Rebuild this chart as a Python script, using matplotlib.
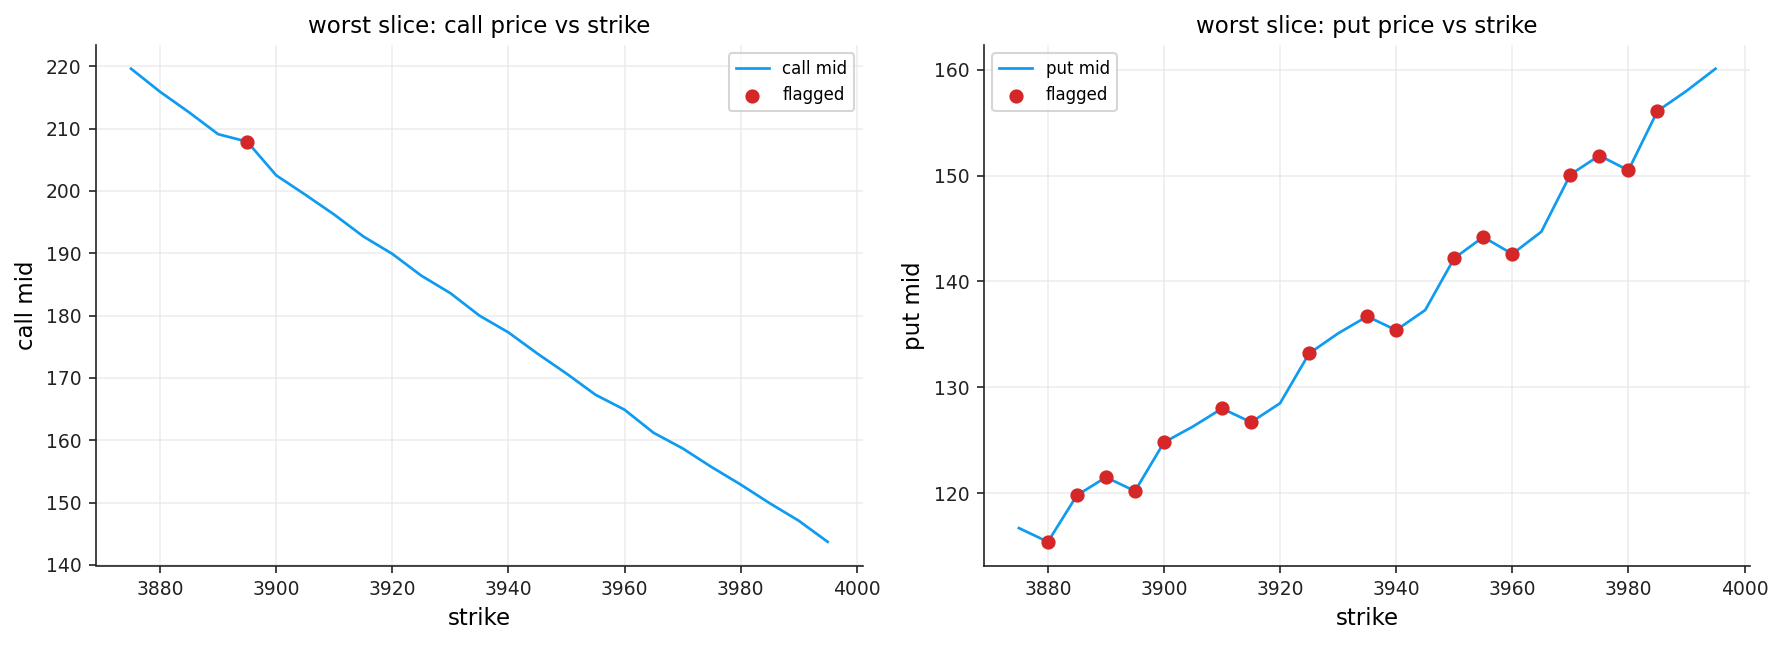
import numpy as np
import matplotlib
matplotlib.use("Agg")
import matplotlib.pyplot as plt

strikes = [3875, 3880, 3885, 3890, 3895, 3900, 3905, 3910, 3915, 3920, 3925, 3930, 3935,
           3940, 3945, 3950, 3955, 3960, 3965, 3970, 3975, 3980, 3985, 3990, 3995]
call_mid = [219.6, 215.9, 212.6, 209.1, 207.9, 202.5, 199.4, 196.2, 192.7, 189.9, 186.4,
            183.6, 180.0, 177.3, 173.9, 170.7, 167.3, 164.9, 161.2, 158.7, 155.7, 152.9,
            149.9, 147.1, 143.7]
put_mid = [116.7, 115.4, 119.8, 121.5, 120.2, 124.8, 126.3, 128.0, 126.7, 128.5, 133.2,
           135.1, 136.7, 135.4, 137.3, 142.2, 144.2, 142.6, 144.7, 150.1, 151.9, 150.5,
           156.1, 158.0, 160.1]
call_flagged = [3895]
put_flagged = [3880, 3885, 3890, 3895, 3900, 3910, 3915, 3925, 3935, 3940, 3950, 3955,
               3960, 3970, 3975, 3980, 3985]

line_color = '#0f9bef'
dot_color = '#d62728'

fig, axes = plt.subplots(1, 2, figsize=(11.893, 4.3), dpi=150)


def draw(ax, y, flagged, label, ylabel, title, legend_loc):
    x = np.array(strikes)
    y = np.array(y)
    mask = np.isin(x, flagged)
    ax.plot(x, y, color=line_color, lw=1.3, label=label, zorder=2)
    ax.scatter(x[mask], y[mask], color=dot_color, s=34, label='flagged', zorder=3)
    ax.set_title(title, fontsize=11)
    ax.set_xlabel('strike', fontsize=11)
    ax.set_ylabel(ylabel, fontsize=11)
    ax.grid(True, color='#e6e6e6', lw=0.8, alpha=0.7)
    ax.set_axisbelow(True)
    ax.spines['top'].set_visible(False)
    ax.spines['right'].set_visible(False)
    for s in ['left', 'bottom']:
        ax.spines[s].set_color('#222222')
    ax.tick_params(labelsize=9, colors='#222222')
    ax.set_xticks([3880, 3900, 3920, 3940, 3960, 3980, 4000])
    ax.legend(loc=legend_loc, fontsize=8)


draw(axes[0], call_mid, call_flagged, 'call mid', 'call mid',
     'worst slice: call price vs strike', 'upper right')
draw(axes[1], put_mid, put_flagged, 'put mid', 'put mid',
     'worst slice: put price vs strike', 'upper left')

plt.tight_layout(pad=0.7, w_pad=1.0)
plt.savefig('out.png', dpi=150)
